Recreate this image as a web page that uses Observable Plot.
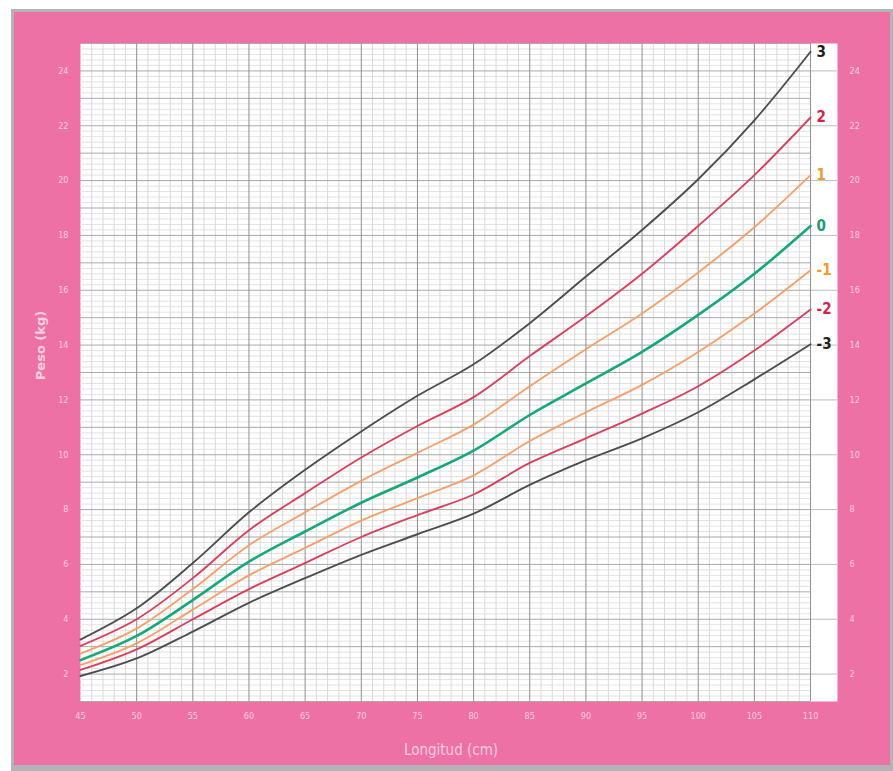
<!DOCTYPE html>
<html>
<head>
<meta charset="utf-8">
<script src="https://cdn.jsdelivr.net/npm/d3@7"></script>
<script src="https://cdn.jsdelivr.net/npm/@observablehq/plot@0.6"></script>
<style>
  html, body { margin: 0; padding: 0; background: #ffffff; width: 893px; height: 771px; overflow: hidden; }
  #frame { position: absolute; left: 11px; top: 9px; width: 876px; height: 753px;
           background: #ed71a4; border: 3px solid #b3b3b8; border-bottom-width: 6px; }
  #chart { position: absolute; left: 0; top: 0; }
</style>
</head>
<body>
<div id="frame"></div>
<div id="chart"></div>
<script>
// Longitud (cm)
const lengths = [45, 50, 55, 60, 65, 70, 75, 80, 85, 90, 95, 100, 105, 110];
// Peso (kg) por curva de puntuación z
const zPos3 = [3.26, 4.40, 6.05, 7.90, 9.45, 10.85, 12.15, 13.30, 14.80, 16.50, 18.20, 20.05, 22.20, 24.70];
const zPos2 = [3.03, 4.00, 5.50, 7.25, 8.60, 9.90, 11.05, 12.10, 13.60, 15.05, 16.60, 18.35, 20.20, 22.30];
const zPos1 = [2.75, 3.66, 5.10, 6.70, 7.90, 9.05, 10.07, 11.10, 12.50, 13.85, 15.15, 16.65, 18.30, 20.20];
const z0    = [2.51, 3.39, 4.70, 6.10, 7.20, 8.25, 9.17, 10.15, 11.45, 12.60, 13.75, 15.10, 16.60, 18.34];
const zNeg1 = [2.33, 3.12, 4.35, 5.60, 6.60, 7.60, 8.42, 9.25, 10.50, 11.55, 12.55, 13.75, 15.15, 16.73];
const zNeg2 = [2.15, 2.90, 4.00, 5.10, 6.05, 7.00, 7.80, 8.55, 9.70, 10.60, 11.50, 12.50, 13.80, 15.30];
const zNeg3 = [1.93, 2.57, 3.55, 4.60, 5.50, 6.35, 7.10, 7.85, 8.90, 9.80, 10.60, 11.55, 12.75, 14.03];

const curveNames = ["3", "2", "1", "0", "-1", "-2", "-3"];
const curveValues = [zPos3, zPos2, zPos1, z0, zNeg1, zNeg2, zNeg3];
const lineColors = ["#4d4d52", "#d8405f", "#f6a06c", "#16a77b", "#f6a06c", "#d8405f", "#4d4d52"];
const labelColors = ["#1e1e1e", "#d52249", "#f39a2c", "#189b6d", "#f39a2c", "#d52249", "#1e1e1e"];

const xTicks = [45, 50, 55, 60, 65, 70, 75, 80, 85, 90, 95, 100, 105, 110];
const yTicks = [2, 4, 6, 8, 10, 12, 14, 16, 18, 20, 22, 24];

const xMin = 45, xMax = 110, xColumn = 112.4, yMin = 1, yMax = 25;

// build tables
const rows = [];
curveNames.forEach((name, i) => {
  lengths.forEach((len, j) => rows.push({len, kg: curveValues[i][j], z: name, lc: lineColors[i], tc: labelColors[i]}));
});
const ends = rows.filter(d => d.len === xMax);

// grid values
const minorY = d3.range(yMin, yMax + 0.001, 0.2).map(v => +v.toFixed(1)).filter(v => Math.abs(v - Math.round(v)) > 0.01);
const majorY = d3.range(yMin, yMax + 1);
const evenY = majorY.filter(v => v % 2 === 0);
const minorX = d3.range(xMin, xMax + 1).filter(v => v % 5 !== 0);
const majorX = d3.range(xMin + 5, xMax + 1, 5);

const narrow = "'Liberation Sans Narrow', 'DejaVu Sans Condensed', sans-serif";

const plot = Plot.plot({
  width: 893,
  height: 771,
  marginLeft: 80,
  marginRight: 56,
  marginTop: 43,
  marginBottom: 70,
  x: {domain: [xMin, xColumn]},
  y: {domain: [yMin, yMax]},
  style: {background: "transparent", color: "#f9cde0", fontFamily: "'DejaVu Sans Condensed', 'Liberation Sans Narrow', sans-serif", fontSize: "9px"},
  marks: [
    Plot.frame({fill: "#ffffff", stroke: null}),
    Plot.ruleY(minorY, {x1: xMin, x2: xMax, stroke: "#e3e3e3", strokeWidth: 1}),
    Plot.ruleX(minorX, {y1: yMin, y2: yMax, stroke: "#dadada", strokeWidth: 1}),
    Plot.ruleY(majorY, {x1: xMin, x2: xMax, stroke: "#a9a9a9", strokeWidth: 1}),
    Plot.ruleY(evenY, {x1: xMax, x2: xColumn, stroke: "#bdbdbd", strokeWidth: 1}),
    Plot.ruleX(majorX, {y1: yMin, y2: yMax, stroke: "#8f8f8f", strokeWidth: 1}),
    Plot.line(rows, {x: "len", y: "kg", z: "z", stroke: "lc", strokeWidth: d => d.z === "0" ? 2.6 : 1.9, curve: "catmull-rom"}),
    Plot.text(ends, {x: "len", y: "kg", text: "z", fill: "tc", dx: 6, textAnchor: "start", fontSize: 15, fontWeight: "bold", fontFamily: narrow}),
    Plot.axisY(yTicks, {anchor: "left", tickSize: 0, tickPadding: 12, label: null}),
    Plot.axisY(yTicks, {anchor: "right", tickSize: 0, tickPadding: 12, label: null}),
    Plot.axisX(xTicks, {anchor: "bottom", tickSize: 0, tickPadding: 11, label: null}),
    Plot.text(["Longitud (cm)"], {frameAnchor: "bottom", textAnchor: "middle", lineAnchor: "middle", dy: 49, dx: -8, fontSize: 15, fill: "#f9cde0", fontFamily: narrow}),
    Plot.text(["Peso (kg)"], {frameAnchor: "left", textAnchor: "middle", lineAnchor: "middle", dx: -40, dy: -27, rotate: -90, fontSize: 13, fontWeight: "bold", fill: "#f9cde0", fontFamily: "'DejaVu Sans', sans-serif"})
  ]
});
document.getElementById("chart").appendChild(plot);
</script>
</body>
</html>
